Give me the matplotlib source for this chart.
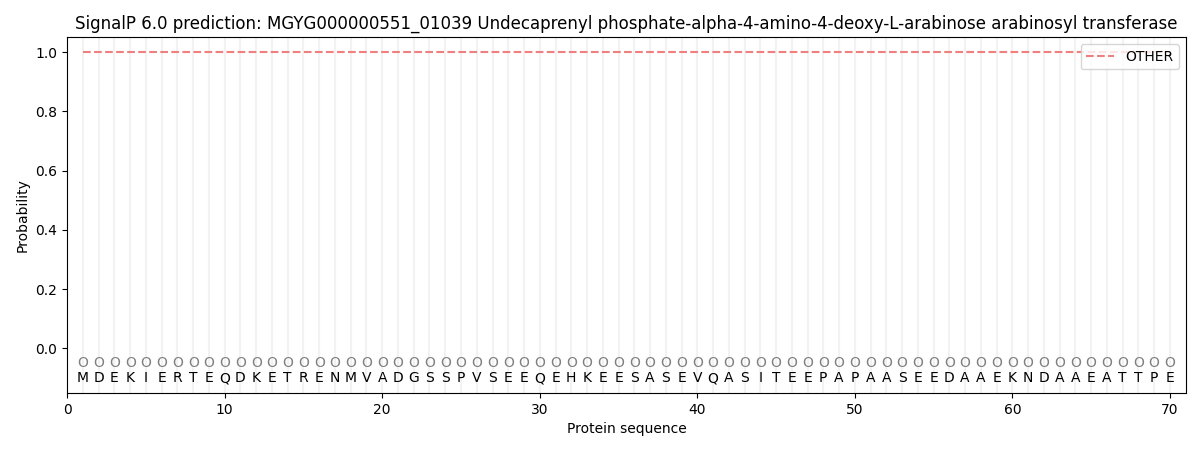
import matplotlib
matplotlib.use("Agg")
import matplotlib.pyplot as plt
import numpy as np

sequence = "MDEKIERTEQDKETRENMVADGSSPVSEEQEHKEESASEVQASITEEPAPAASEEDAAEKNDAAEATTPE"
positions = list(range(1, len(sequence) + 1))
labels = ["O"] * len(sequence)
other_prob = [1.0] * len(sequence)

fig, ax = plt.subplots(figsize=(12, 4.5), dpi=100)

# light vertical guide per residue
for p in positions:
	ax.axvline(p, color="#f2f2f2", linewidth=1.5, zorder=0)

ax.plot(positions, other_prob, linestyle="--", color="#f08080", linewidth=1.5, label="OTHER")

for p, lab, aa in zip(positions, labels, sequence):
	ax.text(p, -0.05, lab, ha="center", va="center", fontsize=10, color="grey")
	ax.text(p, -0.1, aa, ha="center", va="center", fontsize=10, color="black")

ax.set_xlim(0, 71)
ax.set_ylim(-0.15, 1.05)
ax.set_xlabel("Protein sequence")
ax.set_ylabel("Probability")
ax.set_title("SignalP 6.0 prediction: MGYG000000551_01039 Undecaprenyl phosphate-alpha-4-amino-4-deoxy-L-arabinose arabinosyl transferase")
ax.legend(loc="upper right")

plt.subplots_adjust(left=0.056, right=0.988, top=0.917, bottom=0.127)
plt.savefig("out.png")
